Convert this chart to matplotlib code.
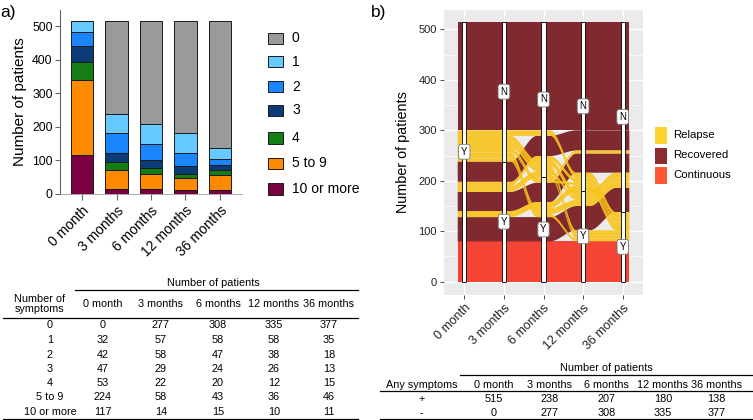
import numpy as np
import matplotlib
matplotlib.use('Agg')
import matplotlib.pyplot as plt
from matplotlib.patches import Rectangle

plt.rcParams['font.family'] = ['Liberation Sans', 'DejaVu Sans']

# ---------------- data: panel a ----------------
timepoints = ['0 month', '3 months', '6 months', '12 months', '36 months']
symptom_cats = ['0', '1', '2', '3', '4', '5 to 9', '10 or more']
counts_0 = [0, 277, 308, 335, 377]
counts_1 = [32, 57, 58, 58, 35]
counts_2 = [42, 58, 47, 38, 18]
counts_3 = [47, 29, 24, 26, 13]
counts_4 = [53, 22, 20, 12, 15]
counts_5to9 = [224, 58, 43, 36, 46]
counts_10plus = [117, 14, 15, 10, 11]
cat_colors = ['#9A9A9A', '#66C9FF', '#1A85FF', '#0B3C78', '#157D15', '#FF8A00', '#7A0042']

# ---------------- data: panel b ----------------
any_pos = [515, 238, 207, 180, 138]
any_neg = [0, 277, 308, 335, 377]
alluvium_paths = ['YYYYY', 'YYYYN', 'YYYNY', 'YYYNN', 'YYNYY', 'YYNYN', 'YYNNY', 'YYNNN',
                  'YNYYY', 'YNYYN', 'YNYNY', 'YNYNN', 'YNNYY', 'YNNYN', 'YNNNY', 'YNNNN']
alluvium_counts = [80, 48, 12, 38, 6, 6, 8, 40, 6, 12, 5, 6, 10, 12, 11, 215]
alluvium_groups = ['Continuous', 'Recovered', 'Relapse', 'Recovered', 'Relapse', 'Relapse',
                   'Relapse', 'Recovered', 'Relapse', 'Relapse', 'Relapse', 'Relapse',
                   'Relapse', 'Relapse', 'Relapse', 'Recovered']
group_names = ['Relapse', 'Recovered', 'Continuous']
group_plot_colors = {'Relapse': '#F9C41C', 'Recovered': '#74151A', 'Continuous': '#F53221'}
group_key_colors = ['#FDD230', '#8E2B30', '#FF5733']

W, H = 753, 420
fig = plt.figure(figsize=(W / 100, H / 100), dpi=100)

def fx(px):
    return px / W

def fy(py):
    return 1 - py / H

# ---------------- panel a ----------------
axa = fig.add_axes([fx(60.3), fy(193.7), fx(241.7) - fx(60.3), fy(9.6) - fy(193.7)])
series = [counts_10plus, counts_5to9, counts_4, counts_3, counts_2, counts_1, counts_0]
colors_stack = cat_colors[::-1]
xpos = np.arange(len(timepoints))
bottom = np.zeros(len(timepoints))
for vals, col in zip(series, colors_stack):
    axa.bar(xpos, vals, bottom=bottom, width=0.64, color=col, edgecolor='#1a1a1a',
            linewidth=0.7, zorder=2)
    bottom += np.array(vals)
axa.set_ylim(0, 550)
axa.set_xlim(-0.63, 4.63)
axa.set_yticks([0, 100, 200, 300, 400, 500])
axa.set_xticks(xpos)
axa.set_xticklabels(timepoints, rotation=45, ha='right', rotation_mode='anchor', fontsize=10)
axa.tick_params(axis='y', labelsize=8.8, length=3.5, color='#666666', width=0.8, pad=2)
axa.tick_params(axis='x', length=4, color='#666666', width=0.8, pad=3)
for s in ['top', 'right']:
    axa.spines[s].set_visible(False)
axa.spines['left'].set_color('#666666')
axa.spines['bottom'].set_color('#999999')
axa.spines['left'].set_linewidth(0.8)
axa.spines['bottom'].set_linewidth(0.6)
axa.set_ylabel('Number of patients', fontsize=11, labelpad=4)

# ---------------- panel b ----------------
axb = fig.add_axes([fx(444), fy(295), fx(643.3) - fx(444), fy(10) - fy(295)])
axb.set_facecolor('#EBEBEB')
n_ax = len(timepoints)
axis_x = np.arange(1, n_ax + 1)

def guidance(i, n):
    lefts = list(range(i - 1, -1, -1))
    rights = list(range(i + 1, n))
    if i >= (n - 1) / 2:
        first, second = rights, lefts
    else:
        first, second = lefts, rights
    order = [i]
    a, b = list(first), list(second)
    while a or b:
        if a:
            order.append(a.pop(0))
        if b:
            order.append(b.pop(0))
    return order

n_all = len(alluvium_paths)
lo = np.zeros((n_all, n_ax))
hi = np.zeros((n_all, n_ax))
for i in range(n_ax):
    g = guidance(i, n_ax)
    base = 0.0
    for s in ['Y', 'N']:
        members = [k for k in range(n_all) if alluvium_paths[k][i] == s]
        members.sort(key=lambda k: tuple(0 if alluvium_paths[k][a] == 'Y' else 1 for a in g[1:]))
        for k in members:
            lo[k, i] = base
            base += alluvium_counts[k]
            hi[k, i] = base

kw = 1 / 3
t = np.linspace(0, 1, 60)[1:-1]
sm = 3 * t ** 2 - 2 * t ** 3
for k in range(n_all):
    xs, ys0, ys1 = [], [], []
    for i in range(n_ax):
        xc = axis_x[i]
        xs += [xc - kw / 2, xc + kw / 2]
        ys0 += [lo[k, i]] * 2
        ys1 += [hi[k, i]] * 2
        if i < n_ax - 1:
            xseg = xc + kw / 2 + t * (1 - kw)
            xs += list(xseg)
            ys0 += list(lo[k, i] + sm * (lo[k, i + 1] - lo[k, i]))
            ys1 += list(hi[k, i] + sm * (hi[k, i + 1] - hi[k, i]))
    axb.fill_between(xs, ys0, ys1, facecolor=group_plot_colors[alluvium_groups[k]],
                     alpha=0.9, linewidth=0, zorder=2)

sw = 0.11
for i in range(n_ax):
    xc = axis_x[i]
    if any_pos[i] > 0:
        axb.add_patch(Rectangle((xc - sw / 2, 0), sw, any_pos[i], facecolor='white',
                                edgecolor='black', linewidth=0.6, zorder=3))
        axb.text(xc, any_pos[i] / 2, 'Y', ha='center', va='center', fontsize=7, zorder=4,
                 bbox=dict(boxstyle='round,pad=0.25', facecolor='white', edgecolor='#777777',
                           linewidth=0.6))
    if any_neg[i] > 0:
        axb.add_patch(Rectangle((xc - sw / 2, any_pos[i]), sw, any_neg[i], facecolor='white',
                                edgecolor='black', linewidth=0.6, zorder=3))
        axb.text(xc, any_pos[i] + any_neg[i] / 2, 'N', ha='center', va='center', fontsize=7,
                 zorder=4, bbox=dict(boxstyle='round,pad=0.25', facecolor='white',
                                     edgecolor='#777777', linewidth=0.6))

axb.set_xlim(0.487, 5.52)
axb.set_ylim(-26.3, 538.3)
axb.set_yticks([0, 100, 200, 300, 400, 500])
axb.set_yticks([50, 150, 250, 350, 450], minor=True)
axb.set_xticks(axis_x)
axb.set_xticklabels(timepoints, rotation=45, ha='right', rotation_mode='anchor', fontsize=9,
                    color='#222222')
axb.grid(which='major', color='white', linewidth=1.0, zorder=0)
axb.grid(which='minor', axis='y', color='white', linewidth=0.5, zorder=0)
axb.set_axisbelow(True)
axb.tick_params(axis='both', which='major', length=3, color='#333333', width=0.6, pad=2)
axb.tick_params(axis='y', labelsize=8, labelcolor='#222222')
axb.tick_params(which='minor', length=0)
for s in axb.spines.values():
    s.set_visible(False)
axb.set_ylabel('Number of patients', fontsize=10.4, labelpad=6)

# ---------------- overlay: labels, legends, tables ----------------
ov = fig.add_axes([0, 0, 1, 1], facecolor='none')
ov.set_xlim(0, W)
ov.set_ylim(H, 0)
ov.axis('off')

ov.text(0, 12, 'a)', fontsize=12.5, ha='left', va='center')
ov.text(371, 13, 'b)', fontsize=12.5, ha='left', va='center')

# legend a
leg_a_y = [38.3, 61.5, 86.7, 110.3, 138, 163.3, 189]
for lab, col, yy in zip(symptom_cats, cat_colors, leg_a_y):
    ov.add_patch(Rectangle((268.3, yy - 5.8), 15, 11.6, facecolor=col, edgecolor='#1a1a1a',
                           linewidth=0.7))
    ov.text(292, yy, lab, fontsize=10, ha='left', va='center')

# legend b
leg_b_y = [135, 155.5, 175]
for lab, col, yy in zip(group_names, group_key_colors, leg_b_y):
    ov.add_patch(Rectangle((655, yy - 8), 12, 16.5, facecolor=col, edgecolor='none'))
    ov.text(673, yy, lab, fontsize=8.2, ha='left', va='center')

# table a
fs_a = 7.8
col_a = [103, 161, 218, 274, 329]
ov.text(213, 283, 'Number of patients', fontsize=fs_a, ha='center', va='center')
ov.plot([75, 358], [289.5, 289.5], color='black', lw=0.9)
ov.text(40, 303.5, 'Number of\nsymptoms', fontsize=fs_a, ha='center', va='center',
        linespacing=1.0)
for cx, lab in zip(col_a, timepoints):
    ov.text(cx, 304, lab, fontsize=fs_a, ha='center', va='center')
ov.plot([3, 358], [318, 318], color='black', lw=0.9)
row_y_a = [325.5, 340, 354.5, 369, 383.5, 397.5, 412]
rows_a = [counts_0, counts_1, counts_2, counts_3, counts_4, counts_5to9, counts_10plus]
for yy, lab, vals in zip(row_y_a, symptom_cats, rows_a):
    ov.text(50, yy, lab, fontsize=fs_a, ha='center', va='center')
    for cx, v in zip(col_a, vals):
        ov.text(cx, yy, str(v), fontsize=fs_a, ha='center', va='center')
ov.plot([3, 358], [419.3, 419.3], color='black', lw=0.9)

# table b
fs_b = 7.8
col_b = [494, 550, 606.7, 663, 716.7]
ov.text(606, 368, 'Number of patients', fontsize=fs_b, ha='center', va='center')
ov.plot([460, 752], [374.7, 374.7], color='black', lw=0.9)
ov.text(421.7, 385, 'Any symptoms', fontsize=fs_b, ha='center', va='center')
for cx, lab in zip(col_b, timepoints):
    ov.text(cx, 385, lab, fontsize=fs_b, ha='center', va='center')
ov.plot([380, 752], [390.7, 390.7], color='black', lw=0.9)
for yy, lab, vals in zip([399.3, 412.7], ['+', '-'], [any_pos, any_neg]):
    ov.text(421.7, yy, lab, fontsize=fs_b, ha='center', va='center')
    for cx, v in zip(col_b, vals):
        ov.text(cx, yy, str(v), fontsize=fs_b, ha='center', va='center')
ov.plot([380, 752], [419.3, 419.3], color='black', lw=0.9)

fig.savefig('out.png', dpi=100)
